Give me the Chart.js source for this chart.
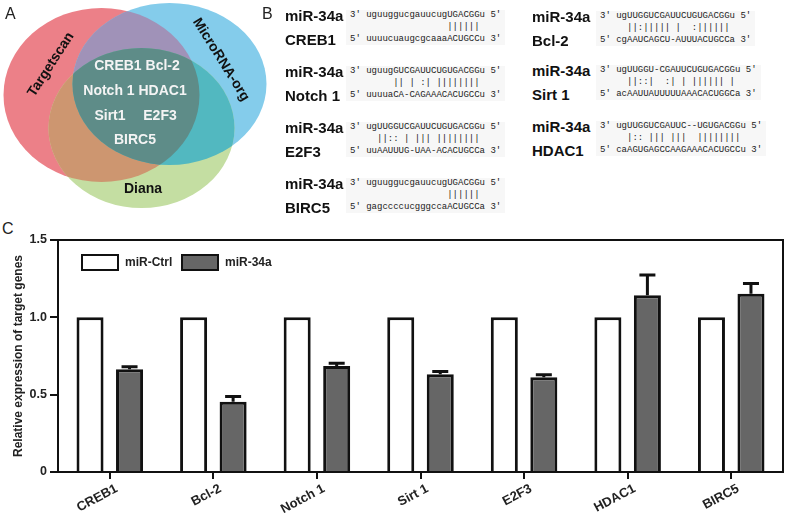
<!DOCTYPE html>
<html>
<head>
<meta charset="utf-8">
<script src="https://cdn.jsdelivr.net/npm/chart.js@4.4.0/dist/chart.umd.min.js"></script>
<style>
  body { margin: 0; background: #fff; font-family: "Liberation Sans", Arial, sans-serif; }
  #page { position: relative; width: 790px; height: 521px; overflow: hidden; }
  .letter { position: absolute; font-size: 16px; color: #222; line-height: 16px; }
  #venn { position: absolute; left: 0; top: 0; }
  .vtxt { position: absolute; font-weight: bold; white-space: nowrap; transform: translate(-50%, -50%); }
  .gene { color: #f4f4f4; font-size: 14px; }
  .db { color: #111; font-size: 14px; }
  .lbl { position: absolute; font-weight: bold; font-size: 15px; line-height: 23.5px; color: #111; white-space: pre; }
  .seq { position: absolute; margin: 0; font-family: "Liberation Mono", monospace; font-size: 9px; line-height: 11.75px; color: #222; background: #f7f7f7; padding: 0 4px; }
  #c { position: absolute; left: 0; top: 228px; }
</style>
</head>
<body>
<div id="page">
  <canvas id="venn" width="270" height="215"></canvas>
  <div class="letter" style="left:5px;top:6px">A</div>
  <div class="letter" style="left:262px;top:6px">B</div>
  <div class="letter" style="left:2px;top:221px">C</div>

  <div class="vtxt gene" style="left:137px;top:65px">CREB1&nbsp;Bcl-2</div>
  <div class="vtxt gene" style="left:135px;top:90px">Notch 1 HDAC1</div>
  <div class="vtxt gene" style="left:110px;top:115px">Sirt1</div>
  <div class="vtxt gene" style="left:160px;top:115px">E2F3</div>
  <div class="vtxt gene" style="left:135px;top:139px">BIRC5</div>
  <div class="vtxt db" style="left:50px;top:64px;transform:translate(-50%,-50%) rotate(-57deg)">Targetscan</div>
  <div class="vtxt db" style="left:222px;top:59px;transform:translate(-50%,-50%) rotate(58deg)">MicroRNA-org</div>
  <div class="vtxt db" style="left:143px;top:188px">Diana</div>

  <div id="panelB"></div>

  <canvas id="c" width="790" height="293"></canvas>
</div>

<script>
// panel A: three overlapping sets
const sets = {
  targetscan: { cx: 101.5, cy: 95, rx: 98, ry: 87, color: 'rgb(236,128,136)' },
  microrna:   { cx: 169.5, cy: 84, rx: 97, ry: 81, color: 'rgb(132,204,235)' },
  diana:      { cx: 141.5, cy: 128, rx: 93, ry: 80, color: 'rgb(196,222,162)' }
};
const overlaps = [
  { keys: ['targetscan', 'microrna'], color: 'rgb(160,146,184)' },
  { keys: ['targetscan', 'diana'], color: 'rgb(205,150,112)' },
  { keys: ['microrna', 'diana'], color: 'rgb(82,184,192)' },
  { keys: ['targetscan', 'microrna', 'diana'], color: 'rgb(94,140,136)' }
];
const vctx = document.getElementById('venn').getContext('2d');
const ellipse = (s) => { vctx.beginPath(); vctx.ellipse(s.cx, s.cy, s.rx, s.ry, 0, 0, Math.PI * 2); };
['targetscan', 'microrna', 'diana'].forEach(k => {
  ellipse(sets[k]);
  vctx.fillStyle = sets[k].color;
  vctx.fill();
});
overlaps.forEach(o => {
  vctx.save();
  o.keys.forEach(k => { ellipse(sets[k]); vctx.clip(); });
  vctx.fillStyle = o.color;
  vctx.fillRect(0, 0, 270, 215);
  vctx.restore();
});

// panel B alignments
const alignments = [
  { lx: 285, sx: 346, y: 16,  name: 'CREB1',   mir: 'uguuggucgauucugUGACGGu',   pair: '               ||||||',   target: 'uuuucuaugcgcaaaACUGCCu' },
  { lx: 285, sx: 346, y: 72,  name: 'Notch 1', mir: 'uguugGUCGAUUCUGUGACGGu',   pair: '     || | :| ||||||||',   target: 'uuuuaCA-CAGAAACACUGCCu' },
  { lx: 285, sx: 346, y: 128, name: 'E2F3',    mir: 'ugUUGGUCGAUUCUGUGACGGu',   pair: '  ||:: | ||| ||||||||',   target: 'uuAAUUUG-UAA-ACACUGCCa' },
  { lx: 285, sx: 346, y: 184, name: 'BIRC5',   mir: 'uguuggucgauucugUGACGGu',   pair: '               ||||||',   target: 'gagccccucgggccaACUGCCa' },
  { lx: 532, sx: 596, y: 17,  name: 'Bcl-2',   mir: 'ugUUGGUCGAUUCUGUGACGGu',   pair: '  ||:||||| |  :||||||',   target: 'cgAAUCAGCU-AUUUACUGCCa' },
  { lx: 532, sx: 596, y: 71,  name: 'Sirt 1',  mir: 'ugUUGGU-CGAUUCUGUGACGGu',  pair: '  ||::|  :| | |||||| |',  target: 'acAAUUAUUUUUAAACACUGGCa' },
  { lx: 532, sx: 596, y: 127, name: 'HDAC1',   mir: 'ugUUGGUCGAUUC--UGUGACGGu', pair: '  |:: ||| |||  ||||||||', target: 'caAGUGAGCCAAGAAACACUGCCu' }
];
const panelB = document.getElementById('panelB');
alignments.forEach(a => {
  const l = document.createElement('div');
  l.className = 'lbl';
  l.style.left = a.lx + 'px';
  l.style.top = (a.y - 11.75) + 'px';
  l.textContent = 'miR-34a\n' + a.name;
  panelB.appendChild(l);
  const p = document.createElement('pre');
  p.className = 'seq';
  p.style.left = a.sx + 'px';
  p.style.top = (a.y - 5.9) + 'px';
  p.textContent = "3' " + a.mir + " 5'\n   " + a.pair + "\n5' " + a.target + " 3'";
  panelB.appendChild(p);
});

// panel C data
const genes = ['CREB1', 'Bcl-2', 'Notch 1', 'Sirt 1', 'E2F3', 'HDAC1', 'BIRC5'];
const ctrlValues = [1, 1, 1, 1, 1, 1, 1];
const mirValues = [0.665, 0.455, 0.685, 0.632, 0.612, 1.143, 1.153];
const mirErrors = [0.015, 0.033, 0.018, 0.018, 0.017, 0.13, 0.066];
const yTicks = [0, 0.5, 1.0, 1.5];

const errorBars = {
  id: 'errorBars',
  afterDatasetsDraw(chart) {
    const meta = chart.getDatasetMeta(1);
    const y = chart.scales.y;
    const ctx = chart.ctx;
    ctx.save();
    ctx.strokeStyle = '#111';
    ctx.lineWidth = 3;
    meta.data.forEach((bar, i) => {
      const top = y.getPixelForValue(mirValues[i] + mirErrors[i]);
      ctx.beginPath();
      ctx.moveTo(bar.x, bar.y);
      ctx.lineTo(bar.x, top);
      ctx.moveTo(bar.x - 8, top);
      ctx.lineTo(bar.x + 8, top);
      ctx.stroke();
    });
    ctx.restore();
  }
};

// box round the plot + legend inside it
const frame = {
  id: 'frame',
  afterDraw(chart) {
    const { ctx, chartArea: a } = chart;
    ctx.save();
    ctx.strokeStyle = '#111';
    ctx.lineWidth = 2;
    ctx.strokeRect(a.left, a.top, a.right - a.left, a.bottom - a.top);

    const boxes = [24, 124];
    ctx.font = 'bold 12px "Liberation Sans", Arial';
    ctx.textBaseline = 'middle';
    chart.data.datasets.forEach((ds, i) => {
      const x = a.left + boxes[i], y = a.top + 15;
      ctx.fillStyle = ds.backgroundColor;
      ctx.fillRect(x, y, 36, 15);
      ctx.strokeRect(x, y, 36, 15);
      ctx.fillStyle = '#222';
      ctx.fillText(ds.label, x + 43, y + 8);
    });
    ctx.restore();
  }
};

new Chart(document.getElementById('c'), {
  type: 'bar',
  data: {
    labels: genes,
    datasets: [
      { label: 'miR-Ctrl', data: ctrlValues, backgroundColor: '#ffffff', borderColor: '#111', borderWidth: 3 },
      { label: 'miR-34a', data: mirValues, backgroundColor: '#666666', borderColor: '#111', borderWidth: 3 }
    ]
  },
  options: {
    responsive: false,
    animation: false,
    devicePixelRatio: 1,
    categoryPercentage: 0.763,
    barPercentage: 0.684,
    layout: { padding: { top: 12, right: 7, left: 0, bottom: 0 } },
    plugins: { legend: { display: false }, tooltip: { enabled: false } },
    scales: {
      x: {
        afterFit: (s) => { s.height = 49; },
        border: { display: true, color: '#111', width: 2 },
        grid: { drawOnChartArea: false, offset: false, drawTicks: true, tickLength: 7, color: '#111', lineWidth: 2 },
        ticks: { color: '#222', font: { size: 13, weight: 'bold', family: '"Liberation Sans", Arial' }, minRotation: 28, maxRotation: 28, padding: 2, labelOffset: 7 }
      },
      y: {
        min: 0,
        max: 1.5,
        afterFit: (s) => { s.width = 58; },
        afterBuildTicks: (s) => { s.ticks = yTicks.map(v => ({ value: v })); },
        border: { display: true, color: '#111', width: 2 },
        grid: { drawOnChartArea: false, drawTicks: true, tickLength: 8, color: '#111', lineWidth: 2 },
        ticks: {
          color: '#222',
          padding: 3,
          font: { size: 12.5, weight: 'bold', family: '"Liberation Sans", Arial' },
          callback: (v) => v === 0 ? '0' : v.toFixed(1)
        },
        title: {
          display: true,
          text: 'Relative expression of target genes',
          color: '#222',
          font: { size: 12, weight: 'bold', family: '"Liberation Sans", Arial' },
          padding: { top: 11, bottom: 0 }
        }
      }
    }
  },
  plugins: [errorBars, frame]
});
</script>
</body>
</html>
